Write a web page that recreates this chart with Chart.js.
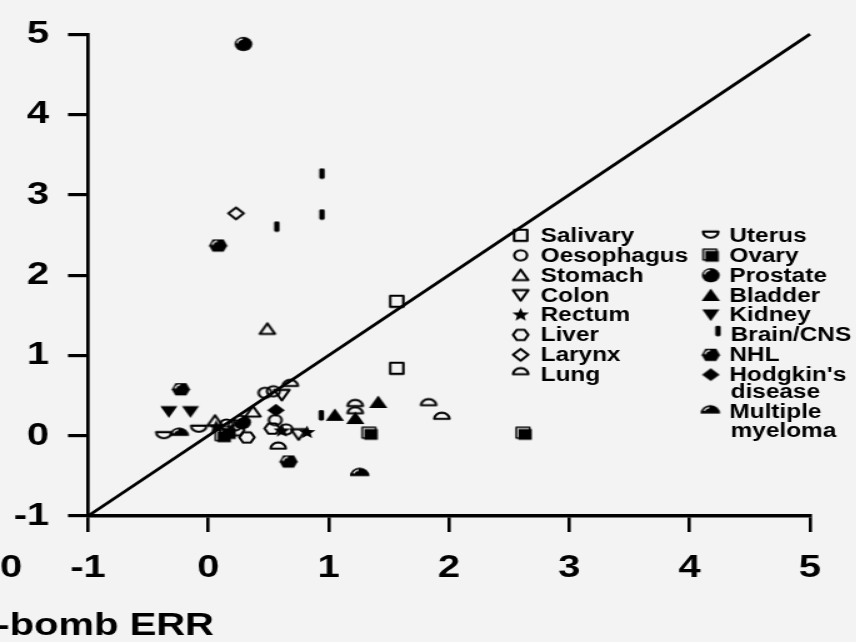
<!DOCTYPE html>
<html>
<head>
<meta charset="utf-8">
<script src="https://cdn.jsdelivr.net/npm/chart.js@4.4.1/dist/chart.umd.min.js"></script>
<style>
  html, body { margin: 0; padding: 0; background: #f3f3f3; overflow: hidden; }
  /* the reference is stretched sideways, so the canvas is drawn narrow and scaled */
  #chart { position: absolute; left: 0; top: 0; transform: scaleX(1.25); transform-origin: 0 0; }
</style>
</head>
<body>
<canvas id="chart" width="685" height="642"></canvas>
<script>
// values, [x, y]
const salivary = [[1.565, 1.675], [1.565, 0.84]];
const oesophagus = [[0.47, 0.535], [0.54, 0.555], [0.555, 0.195], [0.645, 0.08], [0.15, 0.14], [0.22, 0.13]];
const stomach = [[0.49, 1.33], [0.055, 0.185], [0.37, 0.30]];
const colon = [[0.61, 0.51], [0.75, 0.02]];
const rectum = [[0.065, 0.11], [0.61, 0.06], [0.82, 0.04]];
const liver = [[0.32, -0.02], [0.53, 0.09], [0.235, 0.07]];
const larynx = [[0.23, 2.77]];
const lung = [[0.68, 0.66], [1.22, 0.41], [1.22, 0.32], [1.83, 0.42], [1.94, 0.25], [0.58, -0.12]];
const uterus = [[-0.37, 0.0], [-0.08, 0.08]];
const ovary = [[1.34, 0.03], [2.62, 0.03], [0.12, 0.0], [0.16, 0.04]];
const prostate = [[0.29, 4.88], [0.28, 0.17]];
const bladder = [[1.41, 0.42], [1.05, 0.26], [1.22, 0.22]];
const kidney = [[-0.33, 0.30], [-0.15, 0.30]];
const brainCns = [[0.945, 3.26], [0.945, 2.75], [0.57, 2.60], [0.94, 0.25]];
const nhl = [[0.08, 2.37], [-0.23, 0.58], [0.665, -0.32]];
const hodgkin = [[0.56, 0.32]];
const myeloma = [[-0.24, 0.05], [1.26, -0.45]];

const identityLine = [[-1, -1], [5, 5]];
const xTicks = [-1, 0, 1, 2, 3, 4, 5];
const yTicks = [-1, 0, 1, 2, 3, 4, 5];

const FONT = "'Liberation Sans', Arial, sans-serif";
const K = 1.22; // marker scale

// little canvases used as point styles
function marker(w, h, paint) {
  const c = document.createElement('canvas');
  c.width = Math.round(w * K); c.height = Math.round(h * K);
  const g = c.getContext('2d');
  g.scale(K, K);
  g.strokeStyle = '#000'; g.fillStyle = '#000';
  g.lineWidth = 1.7; g.lineJoin = 'round';
  paint(g, w / 2, h / 2);
  return c;
}
function poly(g, pts) {
  g.beginPath();
  pts.forEach((p, i) => i ? g.lineTo(p[0], p[1]) : g.moveTo(p[0], p[1]));
  g.closePath();
}
function highlight(g, cx, cy, r) {
  g.strokeStyle = '#fff'; g.lineWidth = 1;
  g.beginPath(); g.arc(cx, cy, r, Math.PI * 1.05, Math.PI * 1.45); g.stroke();
}

const mk = {
  openSquare: marker(14, 14, (g, x, y) => g.strokeRect(x - 4.3, y - 4.6, 8.6, 9.2)),
  openCircle: marker(14, 14, (g, x, y) => { g.beginPath(); g.arc(x, y, 4.2, 0, Math.PI * 2); g.stroke(); }),
  openTri: marker(14, 14, (g, x, y) => { poly(g, [[x, y - 4.6], [x + 5, y + 4], [x - 5, y + 4]]); g.stroke(); }),
  openTriDown: marker(14, 14, (g, x, y) => { poly(g, [[x - 5, y - 4], [x + 5, y - 4], [x, y + 4.6]]); g.stroke(); }),
  star: marker(14, 14, (g, x, y) => {
    const pts = [];
    for (let i = 0; i < 10; i++) {
      const r = i % 2 ? 2.5 : 5.8, a = -Math.PI / 2 + i * Math.PI / 5;
      pts.push([x + r * Math.cos(a), y + r * Math.sin(a)]);
    }
    poly(g, pts); g.fill();
  }),
  openHex: marker(14, 14, (g, x, y) => {
    poly(g, [[x - 5, y], [x - 2.5, y - 4.2], [x + 2.5, y - 4.2], [x + 5, y], [x + 2.5, y + 4.2], [x - 2.5, y + 4.2]]);
    g.stroke();
  }),
  openDiamond: marker(14, 14, (g, x, y) => { poly(g, [[x, y - 4.8], [x + 5, y], [x, y + 4.8], [x - 5, y]]); g.stroke(); }),
  openDome: marker(14, 12, (g, x, y) => {
    g.beginPath(); g.ellipse(x, y + 2.8, 5, 5, 0, Math.PI, Math.PI * 2); g.closePath(); g.stroke();
  }),
  openBowl: marker(14, 12, (g, x, y) => {
    g.beginPath(); g.ellipse(x, y - 2.8, 5, 5, 0, 0, Math.PI); g.closePath(); g.stroke();
  }),
  filledSquare: marker(15, 15, (g, x, y) => {
    g.lineWidth = 1.2; g.strokeRect(x - 5, y - 5, 8.8, 8.8);
    g.fillRect(x - 3.6, y - 3.6, 8.8, 8.8);
  }),
  filledCircle: marker(15, 15, (g, x, y) => {
    g.beginPath(); g.arc(x, y, 5.8, 0, Math.PI * 2); g.fill(); highlight(g, x, y, 4.2);
  }),
  filledTri: marker(15, 15, (g, x, y) => { poly(g, [[x, y - 5.5], [x + 6, y + 4.8], [x - 6, y + 4.8]]); g.fill(); }),
  filledTriDown: marker(15, 15, (g, x, y) => { poly(g, [[x - 5.6, y - 4.6], [x + 5.6, y - 4.6], [x, y + 5]]); g.fill(); }),
  brain: marker(8, 12, (g, x, y) => {
    g.beginPath(); g.roundRect(x - 1.8, y - 4.3, 3.6, 8.6, 1.2); g.fill();
  }),
  filledHex: marker(15, 15, (g, x, y) => {
    poly(g, [[x - 6, y], [x - 3.6, y - 5], [x + 3.6, y - 5], [x + 6, y], [x + 3.6, y + 5], [x - 3.6, y + 5]]);
    g.fill(); highlight(g, x, y, 3.8);
  }),
  filledDiamond: marker(15, 15, (g, x, y) => { poly(g, [[x, y - 5.2], [x + 5.8, y], [x, y + 5.2], [x - 5.8, y]]); g.fill(); }),
  filledDome: marker(16, 14, (g, x, y) => {
    g.beginPath(); g.ellipse(x, y + 3.5, 6.4, 7, 0, Math.PI, Math.PI * 2); g.closePath(); g.fill();
    g.strokeStyle = '#fff'; g.lineWidth = 1;
    g.beginPath(); g.ellipse(x, y + 3.5, 4.6, 5.2, 0, Math.PI * 1.15, Math.PI * 1.45); g.stroke();
  })
};

const series = [
  { label: 'Salivary', data: salivary, style: mk.openSquare },
  { label: 'Oesophagus', data: oesophagus, style: mk.openCircle },
  { label: 'Stomach', data: stomach, style: mk.openTri },
  { label: 'Colon', data: colon, style: mk.openTriDown },
  { label: 'Rectum', data: rectum, style: mk.star },
  { label: 'Liver', data: liver, style: mk.openHex },
  { label: 'Larynx', data: larynx, style: mk.openDiamond },
  { label: 'Lung', data: lung, style: mk.openDome },
  { label: 'Uterus', data: uterus, style: mk.openBowl },
  { label: 'Ovary', data: ovary, style: mk.filledSquare },
  { label: 'Prostate', data: prostate, style: mk.filledCircle },
  { label: 'Bladder', data: bladder, style: mk.filledTri },
  { label: 'Kidney', data: kidney, style: mk.filledTriDown },
  { label: 'Brain/CNS', data: brainCns, style: mk.brain },
  { label: 'NHL', data: nhl, style: mk.filledHex },
  { label: "Hodgkin's disease", data: hodgkin, style: mk.filledDiamond },
  { label: 'Multiple myeloma', data: myeloma, style: mk.filledDome }
];

// legend placement, in canvas units (before the sideways stretch)
const legendCols = [
  { symX: 416.5, textX: 432.5, rows: [
    ['Salivary', 241.7], ['Oesophagus', 261.7], ['Stomach', 281.6], ['Colon', 301.5],
    ['Rectum', 321.4], ['Liver', 341.3], ['Larynx', 361.2], ['Lung', 381.0, -10]
  ] },
  { symX: 568.5, textX: 583.5, rows: [
    ['Uterus', 241.7], ['Ovary', 261.7], ['Prostate', 281.6], ['Bladder', 301.5],
    ['Kidney', 321.4], ['Brain/CNS', 341.3, -10, 6, 1], ['NHL', 361.2],
    ["Hodgkin's disease", 381.0, -6.5, 0, 0, 398.3], ['Multiple myeloma', 418.3, -9, 0, 0, 436.7]
  ] }
];

const legendBox = {
  id: 'legendBox',
  afterDraw(chart) {
    const g = chart.ctx;
    g.save();
    g.fillStyle = '#000';
    g.textBaseline = 'alphabetic';
    g.font = 'bold 19.5px ' + FONT;
    for (const col of legendCols) {
      for (const [name, base, dy = -6.5, sx = 0, tx = 0, base2] of col.rows) {
        const img = series.find(s => s.label === name).style;
        g.drawImage(img, col.symX + sx - img.width / 2, base + dy - img.height / 2);
        const words = base2 ? name.split(' ') : [name];
        g.fillText(words[0], col.textX + tx, base);
        if (base2) g.fillText(words[1], col.textX + tx + 1, base2);
      }
    }
    // bits of the neighbouring panel that show at the left edge
    g.font = 'bold 32px ' + FONT;
    g.fillText('-bomb ERR', -3, 635);
    g.fillText('0', 0, 577);
    g.restore();
  }
};

const tickFont = { family: FONT, weight: 'bold', size: 32 };

new Chart(document.getElementById('chart'), {
  type: 'scatter',
  data: {
    datasets: series.map(s => ({
      label: s.label,
      data: s.data.map(([x, y]) => ({ x, y })),
      pointStyle: s.style,
      pointRadius: 5,
      pointHoverRadius: 5
    })).concat([{
      label: 'identity',
      data: identityLine.map(([x, y]) => ({ x, y })),
      showLine: true,
      borderColor: '#000',
      borderWidth: 2.9,
      pointRadius: 0,
      clip: false
    }])
  },
  options: {
    responsive: false,
    animation: false,
    events: [],
    layout: { padding: { top: 30, right: 37, bottom: 0, left: 0 } },
    plugins: { legend: { display: false }, tooltip: { enabled: false } },
    scales: {
      x: {
        type: 'linear', min: -1, max: 5,
        afterBuildTicks: s => { s.ticks = xTicks.map(v => ({ value: v })); },
        afterFit: s => { s.height = 126; },
        grid: { display: true, drawOnChartArea: false, drawTicks: true, tickLength: 16, color: '#000', lineWidth: 2.6 },
        border: { display: true, color: '#000', width: 3.4 },
        ticks: { font: tickFont, color: '#000', padding: 17, maxRotation: 0, autoSkip: false }
      },
      y: {
        type: 'linear', min: -1, max: 5,
        afterBuildTicks: s => { s.ticks = yTicks.map(v => ({ value: v })); },
        afterFit: s => { s.width = 70.4; },
        grid: { display: true, drawOnChartArea: false, drawTicks: true, tickLength: 16, color: '#000', lineWidth: 3.2 },
        border: { display: true, color: '#000', width: 2.7 },
        ticks: { font: tickFont, color: '#000', padding: 15, autoSkip: false }
      }
    }
  },
  plugins: [legendBox]
});
</script>
</body>
</html>
